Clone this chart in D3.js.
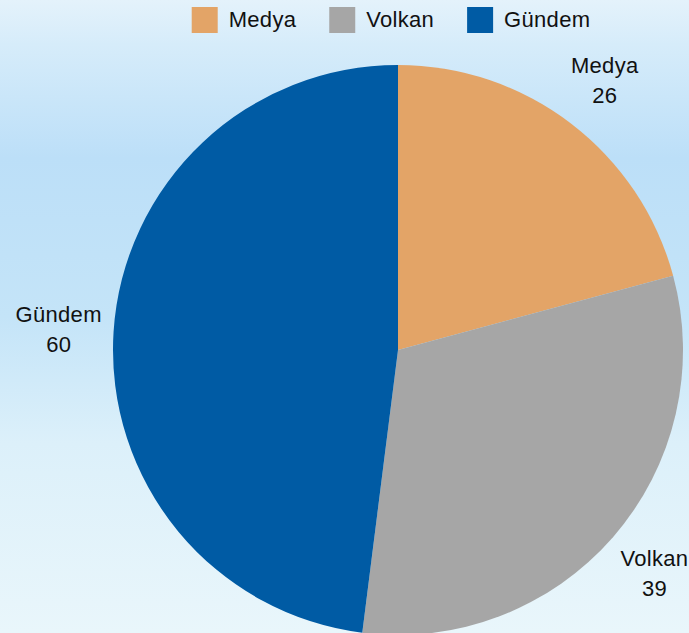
<!DOCTYPE html>
<html>
<head>
<meta charset="utf-8">
<script src="https://cdn.jsdelivr.net/npm/d3@7"></script>
<style>
  html, body { margin: 0; padding: 0; overflow: hidden; }
  text { font-family: "Liberation Sans", Arial, sans-serif; fill: #111; letter-spacing: 0.3px; }
</style>
</head>
<body>
<div id="chart"></div>
<script>
var width = 689,
    height = 633;

var categories = ["Medya", "Volkan", "Gündem"],
    values = [26, 39, 60],
    colors = ["#e3a467", "#a6a6a6", "#005ba4"];

var cx = 398, cy = 350,
    radius = 285,
    labelRadius = 340;

var svg = d3.select("#chart").append("svg")
    .attr("width", width)
    .attr("height", height);

// sky-ish background
var grad = svg.append("defs").append("linearGradient")
    .attr("id", "sky")
    .attr("x1", 0).attr("y1", 0).attr("x2", 0).attr("y2", 1);
[[0, "#e4f2fb"], [0.07, "#d6ecfa"], [0.25, "#bcdff8"], [0.5, "#c4e4f8"], [0.7, "#dcf0fa"], [1, "#e9f6fb"]]
  .forEach(function(s) {
    grad.append("stop").attr("offset", s[0]).attr("stop-color", s[1]);
  });

svg.append("rect")
    .attr("width", width)
    .attr("height", height)
    .attr("fill", "url(#sky)");

var data = categories.map(function(c, i) { return { name: c, value: values[i], color: colors[i] }; });

var pie = d3.pie()
    .sort(null)
    .value(function(d) { return d.value; });

var arc = d3.arc()
    .innerRadius(0)
    .outerRadius(radius);

var labelArc = d3.arc()
    .innerRadius(labelRadius)
    .outerRadius(labelRadius);

var g = svg.append("g")
    .attr("transform", "translate(" + cx + "," + cy + ")");

var arcs = pie(data);

g.selectAll("path")
    .data(arcs)
    .enter()
    .append("path")
    .attr("d", arc)
    .attr("fill", function(d) { return d.data.color; });

var labels = g.selectAll(".label")
    .data(arcs)
    .enter()
    .append("text")
    .attr("class", "label")
    .attr("text-anchor", "middle")
    .attr("font-size", 22)
    .attr("transform", function(d) {
      var p = labelArc.centroid(d);
      return "translate(" + p[0] + "," + p[1] + ")";
    });

labels.append("tspan")
    .attr("x", 0)
    .attr("y", -7)
    .text(function(d) { return d.data.name; });

labels.append("tspan")
    .attr("x", 0)
    .attr("y", 23)
    .text(function(d) { return d.data.value; });

// legend
var legend = svg.append("g").attr("class", "legend");
var x = 0;
data.forEach(function(d) {
  var item = legend.append("g").attr("transform", "translate(" + x + ",0)");
  item.append("rect")
      .attr("x", 0).attr("y", 7)
      .attr("width", 26).attr("height", 26)
      .attr("fill", d.color);
  var t = item.append("text")
      .attr("x", 37).attr("y", 27)
      .attr("font-size", 22)
      .text(d.name);
  x += 37 + t.node().getComputedTextLength() + 33;
});
var legendWidth = x - 33;
legend.attr("transform", "translate(" + (391 - legendWidth / 2) + ",0)");
</script>
</body>
</html>
